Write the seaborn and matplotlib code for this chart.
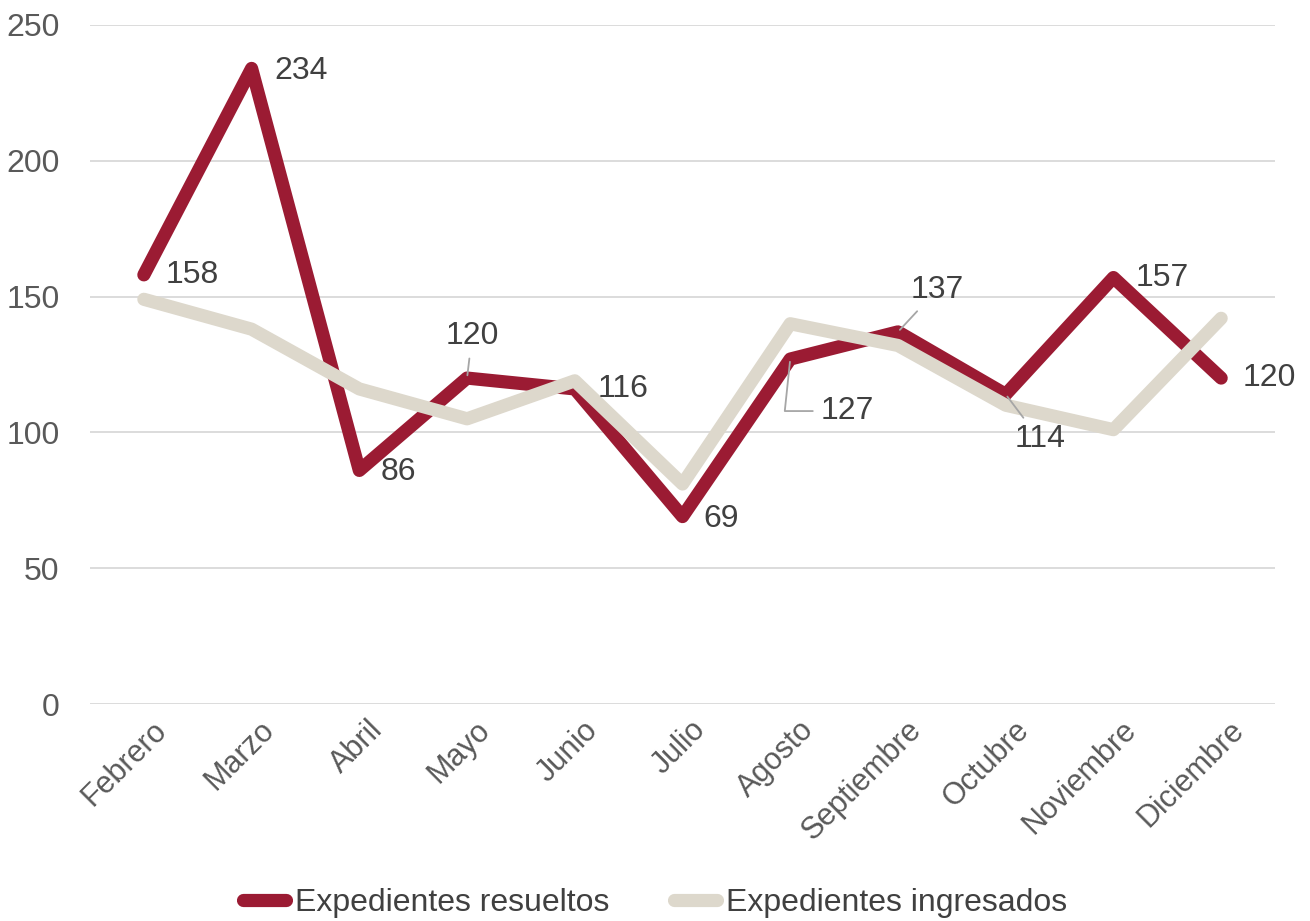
import pandas as pd
import numpy as np
import seaborn as sns
import matplotlib.pyplot as plt
import matplotlib.transforms as mtransforms

# Datos
meses = ["Febrero", "Marzo", "Abril", "Mayo", "Junio", "Julio", "Agosto",
         "Septiembre", "Octubre", "Noviembre", "Diciembre"]
resueltos = [158, 234, 86, 120, 116, 69, 127, 137, 114, 157, 120]
ingresados = [149, 138, 116, 105, 119, 81, 140, 132, 110, 101, 142]

serie_res = "Expedientes resueltos"
serie_ing = "Expedientes ingresados"

df = pd.DataFrame({
    "Mes": meses * 2,
    "Valor": resueltos + ingresados,
    "Serie": [serie_res] * len(meses) + [serie_ing] * len(meses),
})
df["Mes"] = pd.Categorical(df["Mes"], categories=meses, ordered=True)

rojo = "#9B1B33"
beige = "#DDD8CC"
gris_texto = "#404040"
gris_ticks = "#595959"

sns.set_style("white")
plt.rcParams["font.family"] = ["Liberation Sans", "DejaVu Sans"]

fig = plt.figure(figsize=(13.1, 9.21), dpi=100)
ax = fig.add_axes([0.0687, 0.2356, 0.9046, 0.7373])

sns.lineplot(data=df, x="Mes", y="Valor", hue="Serie",
             palette={serie_res: rojo, serie_ing: beige},
             hue_order=[serie_res, serie_ing], linewidth=9.5, ax=ax,
             legend=True, sort=False)
for ln in ax.lines:
    ln.set_solid_capstyle("round")
    ln.set_solid_joinstyle("round")
ax.lines[0].set_zorder(3)
ax.lines[1].set_zorder(4)

ax.set_xlim(-0.5, 10.5)
ax.set_ylim(0, 250)
ax.set_yticks(np.arange(0, 251, 50))
ax.grid(axis="y", color="#D9D9D9", linewidth=1.3)
ax.set_axisbelow(True)
for s in ax.spines.values():
    s.set_visible(False)
ax.set_xlabel("")
ax.set_ylabel("")
ax.tick_params(axis="y", length=0, pad=22, labelsize=23, labelcolor=gris_ticks)
ax.tick_params(axis="x", length=0, pad=8, labelsize=22, labelcolor=gris_ticks)
ax.set_xticks(range(len(meses)))
ax.set_xticklabels(meses, rotation=45, ha="right", rotation_mode="anchor")
off = mtransforms.ScaledTranslation(8 / 100, 0, fig.dpi_scale_trans)
for lbl in ax.get_xticklabels():
    lbl.set_transform(lbl.get_transform() + off)

# Etiquetas de datos (offset en pixeles, ha, leader)
offsets = [(22, 0, "left", None), (23, -3, "left", None), (21, -2, "left", None),
           (5, 42, "center", "arc3"), (23, 0, "left", None), (21, -2, "left", None),
           (30, -52, "left", "angle,angleA=180,angleB=84,rad=0"),
           (39, 42, "center", "arc3"), (34, -45, "center", "arc3"),
           (22, 0, "left", None), (21, 0, "left", None)]
for i, (v, (dx, dy, ha, conn)) in enumerate(zip(resueltos, offsets)):
    kw = {}
    if conn is not None:
        kw["arrowprops"] = dict(arrowstyle="-", color="#A6A6A6", lw=1.3,
                                connectionstyle=conn, shrinkA=3, shrinkB=2)
    ax.annotate(str(v), xy=(i, v), xytext=(dx, dy), textcoords="offset pixels",
                ha=ha, va="center", fontsize=23, color=gris_texto, zorder=6, **kw)

# Leyenda
handles, labels = ax.get_legend_handles_labels()
for h in handles:
    h.set_solid_capstyle("round")
    h.set_linewidth(9.5)
leg = fig.legend(handles, labels, loc="lower center", bbox_to_anchor=(0.5, -0.028),
                 ncol=2, frameon=False, fontsize=23, handlelength=1.35,
                 handletextpad=0.28, columnspacing=2.0, labelcolor=gris_texto)
ax.get_legend().remove()

fig.savefig("out.png", dpi=100)
